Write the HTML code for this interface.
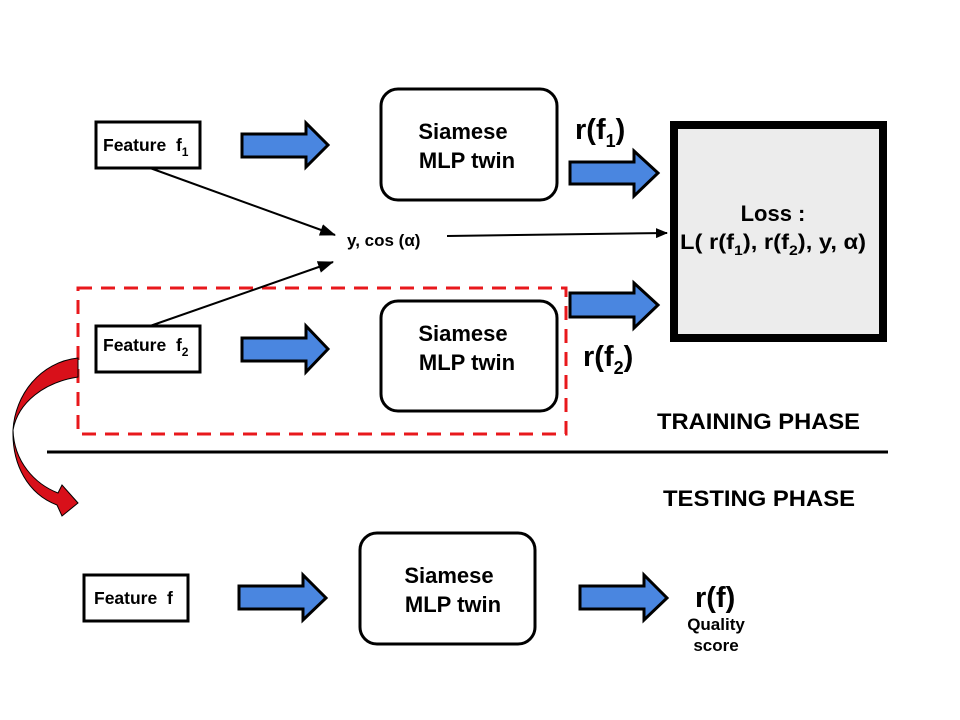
<!DOCTYPE html>
<html><head><meta charset="utf-8"><style>
html,body{margin:0;padding:0;background:#fff;}
svg{display:block;}
text{font-family:"Liberation Sans",sans-serif;font-weight:bold;fill:#000;}
</style></head><body>
<svg width="960" height="720" viewBox="0 0 960 720" xmlns="http://www.w3.org/2000/svg">
<defs>
<marker id="ah" markerWidth="12" markerHeight="10" refX="11" refY="5" orient="auto" markerUnits="userSpaceOnUse" viewBox="0 0 12 10">
<path d="M0,0 L12,5 L0,10 Z" fill="#000"/></marker>
<marker id="ah2" markerWidth="16" markerHeight="12" refX="15" refY="6" orient="auto" markerUnits="userSpaceOnUse" viewBox="0 0 16 12">
<path d="M0,0 L16,6 L0,12 Z" fill="#000"/></marker>
</defs>

<rect x="78" y="288" width="488" height="146" fill="none" stroke="#e8181c" stroke-width="3" stroke-dasharray="14,9"/>

<rect x="96" y="122" width="104" height="46" fill="#fff" stroke="#000" stroke-width="3"/>
<text x="103" y="151" font-size="17.5">Feature&#160;&#160;f<tspan font-size="12" dy="5">1</tspan></text>
<rect x="96" y="326" width="104" height="46" fill="#fff" stroke="#000" stroke-width="3"/>
<text x="103" y="351" font-size="17.5">Feature&#160;&#160;f<tspan font-size="12" dy="5">2</tspan></text>

<line x1="150" y1="168" x2="335" y2="235" stroke="#000" stroke-width="2" marker-end="url(#ah2)"/>
<line x1="150" y1="326" x2="333" y2="262" stroke="#000" stroke-width="2" marker-end="url(#ah2)"/>
<line x1="447" y1="236" x2="667" y2="233" stroke="#000" stroke-width="2" marker-end="url(#ah)"/>
<text x="347" y="246" font-size="17">y, cos (α)</text>

<g fill="#4a86e0" stroke="#000" stroke-width="3" stroke-linejoin="miter">
<path d="M242,134 L306,134 L306,123 L328,145 L306,167 L306,157 L242,157 Z"/>
<path d="M242,338 L306,338 L306,326 L328,349 L306,372 L306,361 L242,361 Z"/>
<path d="M570,162 L634,162 L634,151 L658,173 L634,196 L634,184 L570,184 Z"/>
<path d="M570,293 L634,293 L634,283 L658,305 L634,328 L634,317 L570,317 Z"/>
<path d="M239,586 L303,586 L303,575 L326,598 L303,620 L303,609 L239,609 Z"/>
<path d="M580,586 L644,586 L644,575 L667,598 L644,620 L644,609 L580,609 Z"/>
</g>

<rect x="381" y="89" width="176" height="111" rx="17" fill="#fff" stroke="#000" stroke-width="3"/>
<text x="463" y="139" font-size="22" text-anchor="middle">Siamese</text>
<text x="467" y="168" font-size="22" text-anchor="middle">MLP twin</text>
<rect x="381" y="301" width="176" height="110" rx="17" fill="#fff" stroke="#000" stroke-width="3"/>
<text x="463" y="341" font-size="22" text-anchor="middle">Siamese</text>
<text x="467" y="370" font-size="22" text-anchor="middle">MLP twin</text>
<rect x="360" y="533" width="175" height="111" rx="17" fill="#fff" stroke="#000" stroke-width="3"/>
<text x="449" y="583" font-size="22" text-anchor="middle">Siamese</text>
<text x="453" y="612" font-size="22" text-anchor="middle">MLP twin</text>

<text x="575" y="139" font-size="29">r(f<tspan font-size="18" dy="8">1</tspan><tspan dy="-8">)</tspan></text>
<text x="583" y="366" font-size="29">r(f<tspan font-size="18" dy="8">2</tspan><tspan dy="-8">)</tspan></text>

<rect x="674" y="125" width="209" height="213" fill="#ececec" stroke="#000" stroke-width="8"/>
<text x="773" y="221" font-size="22" text-anchor="middle">Loss :</text>
<text x="773" y="249" font-size="21" text-anchor="middle" textLength="186" lengthAdjust="spacingAndGlyphs">L( r(f<tspan font-size="14" dy="6">1</tspan><tspan dy="-6">), r(f</tspan><tspan font-size="14" dy="6">2</tspan><tspan dy="-6">), y, α)</tspan></text>

<text x="657" y="429" font-size="22" textLength="203" lengthAdjust="spacingAndGlyphs">TRAINING PHASE</text>
<line x1="47" y1="452" x2="888" y2="452" stroke="#000" stroke-width="3"/>
<text x="663" y="506" font-size="22" textLength="192" lengthAdjust="spacingAndGlyphs">TESTING PHASE</text>

<rect x="84" y="575" width="104" height="46" fill="#fff" stroke="#000" stroke-width="3"/>
<text x="94" y="604" font-size="17.5">Feature&#160;&#160;f</text>
<text x="695" y="607" font-size="29">r(f)</text>
<text x="716" y="630" font-size="17" text-anchor="middle">Quality</text>
<text x="716" y="651" font-size="17" text-anchor="middle">score</text>

<path d="M78,358 C40,362 15,395 13,430 C14,462 35,484 58,493 L62,485 L78,503 L62,516 L57,505 C28,494 12,465 13,430 C18,402 45,382 78,377 Z" fill="#d8101a" stroke="#000" stroke-width="1"/>
</svg>
</body></html>
